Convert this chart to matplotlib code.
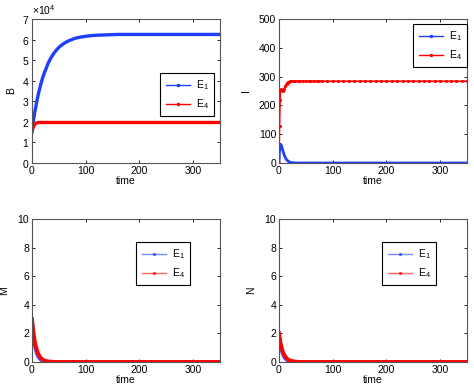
"""Four-panel time course plot (B, I, M, N) for equilibria E1 and E4."""
import matplotlib
matplotlib.use("Agg")
import matplotlib.pyplot as plt
import numpy as np

plt.rcParams["font.family"] = ["Liberation Sans", "DejaVu Sans"]
plt.rcParams["font.size"] = 7.5
plt.rcParams["mathtext.fontset"] = "custom"
plt.rcParams["mathtext.rm"] = "Liberation Sans"
plt.rcParams["mathtext.it"] = "Liberation Sans:italic"

# shared time grid
t = [0, 1, 2, 3, 4, 5, 6, 7, 8, 10, 12, 14, 16, 18, 20, 23, 26,
     30, 35, 40, 45, 50, 55, 60, 65, 70, 75, 80,
     90, 100, 110, 120, 130, 140, 150, 160, 170, 180, 190, 200, 210, 220,
     230, 240, 250, 260, 270, 280, 290, 300, 310, 320, 330, 340, 350]

# B in units of 1e4
B_E1 = [1.60, 1.78, 1.96, 2.14, 2.29, 2.44, 2.59, 2.72, 2.87, 3.13, 3.37, 3.58, 3.79, 3.98, 4.16, 4.38, 4.58,
        4.85, 5.10, 5.31, 5.48, 5.62, 5.73, 5.82, 5.90, 5.96, 6.01, 6.06,
        6.12, 6.16, 6.19, 6.21, 6.22, 6.23, 6.24, 6.25, 6.25, 6.25, 6.25, 6.25, 6.25, 6.25,
        6.25, 6.25, 6.25, 6.25, 6.25, 6.25, 6.25, 6.25, 6.25, 6.25, 6.25, 6.25, 6.25]
B_E4 = [1.50, 1.62, 1.71, 1.78, 1.83, 1.87, 1.90, 1.92, 1.94, 1.96, 1.97, 1.97, 1.97, 1.97, 1.97, 1.97, 1.97,
        1.97, 1.97, 1.97, 1.97, 1.97, 1.97, 1.97, 1.97, 1.97, 1.97, 1.97,
        1.97, 1.97, 1.97, 1.97, 1.97, 1.97, 1.97, 1.97, 1.97, 1.97, 1.97, 1.97, 1.97, 1.97,
        1.97, 1.97, 1.97, 1.97, 1.97, 1.97, 1.97, 1.97, 1.97, 1.97, 1.97, 1.97, 1.97]

I_E1 = [0, 45, 62, 65, 62, 57, 50, 44, 38, 27, 18, 12, 8, 5, 3, 1.5, 0.8,
        0.3, 0.1, 0, 0, 0, 0, 0, 0, 0, 0, 0,
        0, 0, 0, 0, 0, 0, 0, 0, 0, 0, 0, 0, 0, 0,
        0, 0, 0, 0, 0, 0, 0, 0, 0, 0, 0, 0, 0]
I_E4 = [0, 130, 220, 252, 256, 254, 252, 251, 252, 258, 268, 276, 280, 282, 283, 284, 284,
        284, 284, 284, 284, 284, 284, 284, 284, 284, 284, 284,
        284, 284, 284, 284, 284, 284, 284, 284, 284, 284, 284, 284, 284, 284,
        284, 284, 284, 284, 284, 284, 284, 284, 284, 284, 284, 284, 284]

M_E1 = [3.0, 2.5, 2.08, 1.74, 1.45, 1.21, 1.01, 0.84, 0.70, 0.49, 0.34, 0.24, 0.16, 0.11, 0.08, 0.05, 0.03,
        0.01, 0, 0, 0, 0, 0, 0, 0, 0, 0, 0,
        0, 0, 0, 0, 0, 0, 0, 0, 0, 0, 0, 0, 0, 0,
        0, 0, 0, 0, 0, 0, 0, 0, 0, 0, 0, 0, 0]
M_E4 = [3.0, 2.6, 2.25, 1.95, 1.69, 1.47, 1.27, 1.10, 0.96, 0.72, 0.54, 0.41, 0.31, 0.23, 0.17, 0.11, 0.07,
        0.04, 0.02, 0.01, 0, 0, 0, 0, 0, 0, 0, 0,
        0, 0, 0, 0, 0, 0, 0, 0, 0, 0, 0, 0, 0, 0,
        0, 0, 0, 0, 0, 0, 0, 0, 0, 0, 0, 0, 0]

N_E1 = [2.0, 1.67, 1.39, 1.16, 0.97, 0.81, 0.67, 0.56, 0.47, 0.32, 0.23, 0.16, 0.11, 0.08, 0.05, 0.03, 0.02,
        0.01, 0, 0, 0, 0, 0, 0, 0, 0, 0, 0,
        0, 0, 0, 0, 0, 0, 0, 0, 0, 0, 0, 0, 0, 0,
        0, 0, 0, 0, 0, 0, 0, 0, 0, 0, 0, 0, 0]
N_E4 = [2.0, 1.73, 1.50, 1.30, 1.13, 0.98, 0.85, 0.74, 0.64, 0.48, 0.36, 0.27, 0.20, 0.15, 0.11, 0.07, 0.05,
        0.03, 0.01, 0, 0, 0, 0, 0, 0, 0, 0, 0,
        0, 0, 0, 0, 0, 0, 0, 0, 0, 0, 0, 0, 0, 0,
        0, 0, 0, 0, 0, 0, 0, 0, 0, 0, 0, 0, 0]

BLUE = "#1f3fff"
RED = "#ff0000"
LABELS = ["E$_1$", "E$_4$"]

W, H = 474, 390
fig = plt.figure(figsize=(W / 100, H / 100), dpi=100)


def make_ax(x0, y0, x1, y1):
    ax = fig.add_axes([x0 / W, 1 - y1 / H, (x1 - x0) / W, (y1 - y0) / H])
    ax.tick_params(direction="in", top=True, right=True, length=2.5, width=0.6, pad=2)
    for sp in ax.spines.values():
        sp.set_color("#555555")
        sp.set_linewidth(0.8)
    ax.set_xlim(0, 350)
    ax.set_xticks([0, 100, 200, 300])
    ax.set_xlabel("time", labelpad=0)
    return ax


def add_legend(ax, anchor, alpha=1.0):
    leg = ax.legend(loc="upper right", bbox_to_anchor=anchor, fancybox=False,
                    edgecolor="black", framealpha=1, borderaxespad=0,
                    handlelength=2.3, handletextpad=0.6, borderpad=0.5,
                    labelspacing=0.5, numpoints=1, fontsize=7.5)
    leg.get_frame().set_linewidth(0.8)
    for line in leg.get_lines():
        line.set_linewidth(1.0)
        line.set_alpha(alpha)
        line.set_marker(".")
        line.set_markersize(3)


tt = np.array(t)

# B
ax = make_ax(32, 19, 220, 163)
ax.plot(tt, np.array(B_E1) * 1e4, "-", color=BLUE, lw=2.4, label=LABELS[0])
ax.plot(tt, np.array(B_E4) * 1e4, "-", color=RED, lw=2.4, label=LABELS[1])
ax.set_ylim(0, 7e4)
ax.set_yticks(np.arange(0, 7.01e4, 1e4))
ax.ticklabel_format(axis="y", style="sci", scilimits=(0, 0), useMathText=True)
ax.yaxis.get_offset_text().set_fontsize(7.5)
ax.set_ylabel("B", labelpad=4)
add_legend(ax, (0.968, 0.625))

# I
ax = make_ax(279, 19, 467, 163)
ax.plot(tt, I_E1, "-", color=BLUE, lw=2.0, label=LABELS[0])
ax.plot(tt, I_E4, ".-", color=RED, lw=1.2, ms=2.5, label=LABELS[1])
ax.set_ylim(0, 500)
ax.set_yticks(range(0, 501, 100))
ax.set_ylabel("I", labelpad=6)
add_legend(ax, (1.0, 0.965))

# M
ax = make_ax(32, 219, 220, 362)
ax.plot(tt, M_E1, "-", color=BLUE, lw=2.6, alpha=0.85, label=LABELS[0])
ax.plot(tt, M_E4, "-", color=RED, lw=2.8, label=LABELS[1])
ax.set_ylim(0, 10)
ax.set_yticks(range(0, 11, 2))
ax.set_ylabel("M", labelpad=6)
add_legend(ax, (0.84, 0.839), alpha=0.6)

# N
ax = make_ax(279, 219, 467, 362)
ax.plot(tt, N_E1, "-", color=BLUE, lw=2.6, alpha=0.85, label=LABELS[0])
ax.plot(tt, N_E4, "-", color=RED, lw=2.8, label=LABELS[1])
ax.set_ylim(0, 10)
ax.set_yticks(range(0, 11, 2))
ax.set_ylabel("N", labelpad=6)
add_legend(ax, (0.835, 0.839), alpha=0.6)

fig.savefig("out.png", dpi=100)
